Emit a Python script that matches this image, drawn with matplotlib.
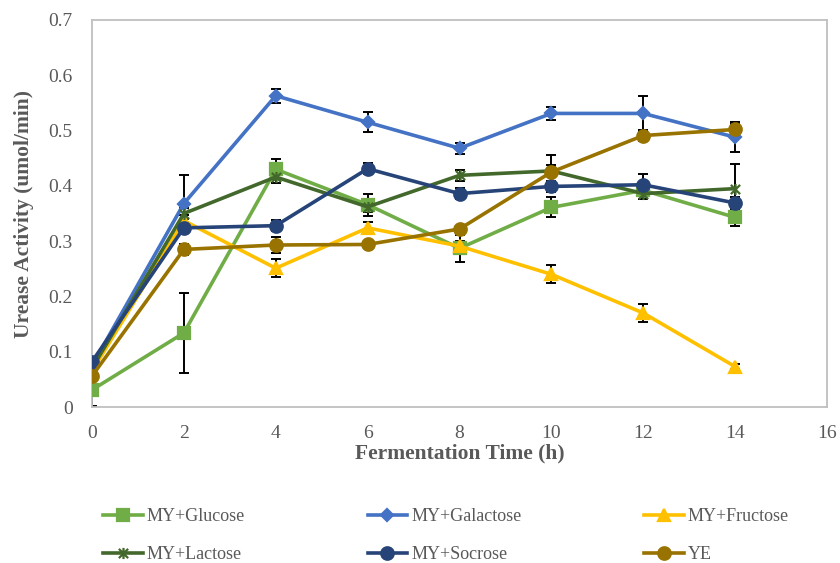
import matplotlib
matplotlib.use("Agg")
import matplotlib.pyplot as plt
from matplotlib.path import Path

# fermentation time (h)
hours = [0, 2, 4, 6, 8, 10, 12, 14]

# urease activity (umol/min) and error bars
glucose = [0.031, 0.134, 0.430, 0.366, 0.287, 0.361, 0.392, 0.343]
glucose_err = [0.030, 0.072, 0.018, 0.020, 0.025, 0.018, 0.010, 0.016]
galactose = [0.075, 0.368, 0.563, 0.515, 0.468, 0.531, 0.531, 0.488]
galactose_err = [0.005, 0.051, 0.013, 0.018, 0.010, 0.012, 0.031, 0.027]
fructose = [0.065, 0.337, 0.251, 0.324, 0.291, 0.240, 0.170, 0.073]
fructose_err = [0.005, 0.010, 0.016, 0.010, 0.010, 0.016, 0.016, 0.004]
lactose = [0.070, 0.350, 0.416, 0.362, 0.419, 0.427, 0.386, 0.395]
lactose_err = [0.005, 0.010, 0.010, 0.010, 0.010, 0.010, 0.010, 0.045]
sucrose = [0.082, 0.324, 0.328, 0.431, 0.386, 0.399, 0.402, 0.369]
sucrose_err = [0.005, 0.010, 0.010, 0.010, 0.010, 0.010, 0.020, 0.010]
ye = [0.056, 0.285, 0.293, 0.294, 0.322, 0.425, 0.491, 0.502]
ye_err = [0.005, 0.010, 0.015, 0.005, 0.005, 0.030, 0.010, 0.010]

labels = ["MY+Glucose", "MY+Galactose", "MY+Fructose",
          "MY+Lactose", "MY+Socrose", "YE"]

# excel-style star: x with a vertical bar
star = Path([(-1, -1), (1, 1), (-1, 1), (1, -1), (0, -1.2), (0, 1.2)],
            [Path.MOVETO, Path.LINETO, Path.MOVETO, Path.LINETO,
             Path.MOVETO, Path.LINETO])

series = [
    (glucose, glucose_err, "#70AD47", "s", 8),
    (galactose, galactose_err, "#4472C4", "D", 6.5),
    (fructose, fructose_err, "#FFC000", "^", 9),
    (lactose, lactose_err, "#43682B", star, 8),
    (sucrose, sucrose_err, "#264478", "o", 9),
    (ye, ye_err, "#997300", "o", 9),
]

plt.rcParams['font.family'] = ['Liberation Serif', 'DejaVu Serif']

fig = plt.figure(figsize=(8.4, 5.63), dpi=100)
ax = fig.add_axes([92 / 840, 1 - 407 / 563, 735 / 840, 387 / 563])

handles = []
for (vals, errs, color, marker, ms), name in zip(series, labels):
    ax.errorbar(hours, vals, yerr=errs, fmt="none", ecolor="black",
                elinewidth=1.4, capsize=3.5, capthick=1.4, zorder=2)
    h, = ax.plot(hours, vals, color=color, lw=2.6, marker=marker, ms=ms,
                 mec=color, mfc=color, mew=1.6, label=name, zorder=3)
    handles.append(h)

ax.set_xlim(0, 16)
ax.set_ylim(0, 0.7)
ax.set_xticks(range(0, 17, 2))
yt = [i / 10 for i in range(8)]
ax.set_yticks(yt)
ax.set_yticklabels(["0"] + [f"{v:.1f}" for v in yt[1:]])
ax.tick_params(length=0, labelsize=14, labelcolor="#595959")
ax.tick_params(axis="x", pad=13)
ax.tick_params(axis="y", pad=14)
for s in ax.spines.values():
    s.set_color("#BFBFBF")
    s.set_linewidth(1.3)

ax.set_xlabel("Fermentation Time (h)", fontsize=15.5, fontweight="bold",
              color="#595959", labelpad=1)
ax.set_ylabel("Urease Activity (umol/min)", fontsize=15.5, fontweight="bold",
              color="#595959", labelpad=10)

# legend is filled column by column, reorder so rows read like the original
order = [0, 3, 1, 4, 2, 5]
fig.legend(handles=[handles[i] for i in order], loc="center",
           bbox_to_anchor=(446 / 840, 1 - 535.5 / 563),
           ncol=3, frameon=False, fontsize=13, handlelength=2.2,
           handletextpad=0.22, columnspacing=6.8, labelspacing=1.15,
           labelcolor="#595959")

fig.savefig("out.png", dpi=100)
